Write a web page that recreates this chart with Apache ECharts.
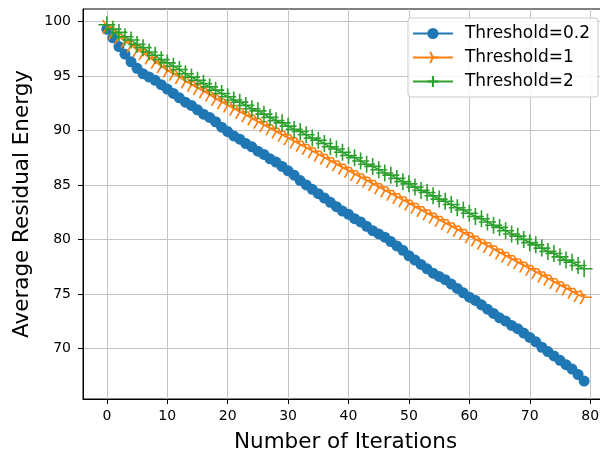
<!DOCTYPE html>
<html>
<head>
<meta charset="utf-8">
<script src="https://cdn.jsdelivr.net/npm/echarts@6/dist/echarts.min.js"></script>
<style>html,body{margin:0;padding:0;background:#fff}#c{width:600px;height:452px}</style>
</head>
<body>
<div id="c"></div>
<script>
var seriesNames = ['Threshold=0.2', 'Threshold=1', 'Threshold=2'];
var xTicks = [0, 10, 20, 30, 40, 50, 60, 70, 80];
var yTicks = [70, 75, 80, 85, 90, 95, 100];
var thr02 = [99.3, 98.5, 97.7, 97.0, 96.3, 95.7, 95.2, 94.9, 94.6, 94.2,
  93.8, 93.4, 93.0, 92.6, 92.3, 91.9, 91.5, 91.2, 90.8, 90.3,
  89.9, 89.5, 89.2, 88.8, 88.5, 88.1, 87.8, 87.4, 87.1, 86.7,
  86.3, 85.9, 85.4, 85.0, 84.6, 84.2, 83.8, 83.4, 83.0, 82.6,
  82.3, 81.9, 81.6, 81.2, 80.8, 80.5, 80.2, 79.8, 79.4, 79.0,
  78.5, 78.1, 77.7, 77.3, 76.9, 76.6, 76.3, 75.9, 75.5, 75.1,
  74.7, 74.4, 74.0, 73.6, 73.2, 72.8, 72.5, 72.1, 71.8, 71.4,
  71.0, 70.6, 70.1, 69.7, 69.3, 68.9, 68.5, 68.1, 67.6, 67.0];
var thr1 = [99.5, 99.0, 98.6, 98.2, 97.8, 97.4, 97.1, 96.7, 96.3, 95.9,
  95.5, 95.2, 94.9, 94.5, 94.2, 93.9, 93.6, 93.3, 92.9, 92.6,
  92.3, 92.0, 91.7, 91.4, 91.1, 90.8, 90.5, 90.2, 89.9, 89.6,
  89.3, 89.0, 88.7, 88.4, 88.1, 87.8, 87.5, 87.2, 86.9, 86.6,
  86.3, 86.0, 85.7, 85.4, 85.1, 84.8, 84.5, 84.2, 83.9, 83.6,
  83.3, 83.0, 82.7, 82.4, 82.1, 81.8, 81.5, 81.2, 80.9, 80.6,
  80.3, 80.0, 79.7, 79.4, 79.1, 78.8, 78.5, 78.2, 77.9, 77.6,
  77.3, 77.0, 76.7, 76.4, 76.1, 75.8, 75.5, 75.2, 74.9, 74.7];
var thr2 = [99.7, 99.3, 99.0, 98.6, 98.3, 97.9, 97.6, 97.2, 96.9, 96.5,
  96.2, 95.9, 95.6, 95.2, 94.9, 94.6, 94.3, 94.0, 93.7, 93.4,
  93.1, 92.8, 92.6, 92.3, 92.0, 91.8, 91.5, 91.2, 90.9, 90.7,
  90.4, 90.1, 89.9, 89.6, 89.3, 89.1, 88.8, 88.5, 88.3, 88.0,
  87.7, 87.5, 87.2, 86.9, 86.7, 86.4, 86.1, 85.9, 85.6, 85.3,
  85.1, 84.8, 84.5, 84.3, 84.0, 83.7, 83.5, 83.2, 82.9, 82.7,
  82.4, 82.1, 81.9, 81.6, 81.3, 81.1, 80.8, 80.5, 80.3, 80.0,
  79.7, 79.5, 79.2, 78.9, 78.7, 78.4, 78.1, 77.9, 77.6, 77.3];

function pairs(arr) { return arr.map(function (v, i) { return [i, v]; }); }

var FONT = 'DejaVu Sans';
var chart = echarts.init(document.getElementById('c'), null, { renderer: 'canvas' });
var triRight = 'path://M-1,0M0,0L1,0M0,0L-0.5,-0.866M0,0L-0.5,0.866';
var plus = 'path://M0,-1L0,1M-1,0L1,0';

chart.setOption({
  animation: false,
  backgroundColor: '#fff',
  grid: { left: 83, top: 9, right: -8, bottom: 53, outerBoundsMode: 'none', containLabel: false,
    show: true, borderColor: '#000', borderWidth: 1, backgroundColor: 'transparent' },
  legend: {
    orient: 'vertical', right: 2, top: 18, itemWidth: 40, itemHeight: 14, itemGap: 7,
    padding: [7, 8, 7, 4],
    backgroundColor: 'rgba(255,255,255,0.85)', borderColor: '#cccccc', borderWidth: 1, borderRadius: 3,
    textStyle: { fontFamily: FONT, fontSize: 17, color: '#000', padding: [0, 0, 0, 7] },
    data: seriesNames
  },
  xAxis: {
    type: 'value', min: -3.95, max: 82.95,
    name: 'Number of Iterations', nameLocation: 'middle', nameGap: 32,
    nameTextStyle: { fontFamily: FONT, fontSize: 21.5, color: '#000' },
    axisLine: { show: true, onZero: false, lineStyle: { color: '#000', width: 1 } },
    axisTick: { show: true, inside: false, length: 5, lineStyle: { color: '#000' }, customValues: xTicks },
    axisLabel: { fontFamily: FONT, fontSize: 14, color: '#000', margin: 10, customValues: xTicks },
    splitLine: { show: true, lineStyle: { color: '#c4c4c4', width: 1 } }
  },
  yAxis: {
    type: 'value', min: 65.35, max: 101.15,
    name: 'Average Residual Energy', nameLocation: 'middle', nameGap: 44,
    nameTextStyle: { fontFamily: FONT, fontSize: 21.5, color: '#000' },
    axisLine: { show: true, onZero: false, lineStyle: { color: '#000', width: 1 } },
    axisTick: { show: true, inside: false, length: 5, lineStyle: { color: '#000' }, customValues: yTicks },
    axisLabel: { fontFamily: FONT, fontSize: 14, color: '#000', margin: 12, customValues: yTicks },
    splitLine: { show: true, lineStyle: { color: '#c4c4c4', width: 1 } }
  },
  series: [
    {
      name: seriesNames[0], type: 'line', data: pairs(thr02), showAllSymbol: true,
      symbol: 'circle', symbolSize: 11,
      lineStyle: { color: '#1f77b4', width: 1.5 },
      itemStyle: { color: '#1f77b4', borderWidth: 0 }
    },
    {
      name: seriesNames[1], type: 'line', data: pairs(thr1), showAllSymbol: true,
      symbol: triRight, symbolSize: [16, 13.9],
      lineStyle: { color: '#ff7f0e', width: 1.5 },
      itemStyle: { color: '#ff7f0e', borderColor: '#ff7f0e', borderWidth: 1.6 }
    },
    {
      name: seriesNames[2], type: 'line', data: pairs(thr2), showAllSymbol: true,
      symbol: plus, symbolSize: 17,
      lineStyle: { color: '#2ca02c', width: 1.5 },
      itemStyle: { color: '#2ca02c', borderColor: '#2ca02c', borderWidth: 1.6 }
    }
  ]
});
</script>
</body>
</html>
